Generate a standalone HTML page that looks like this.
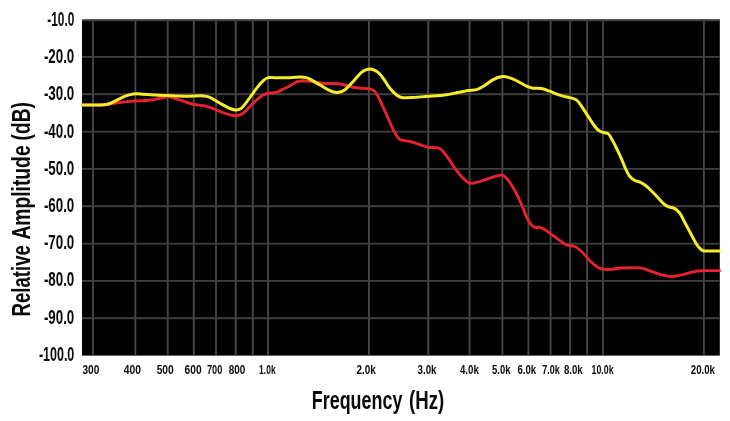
<!DOCTYPE html>
<html lang="en"><head><meta charset="utf-8"><title>Frequency Response</title>
<style>html,body{margin:0;padding:0;background:#fff;}body{width:730px;height:421px;overflow:hidden;}svg{display:block;}text{font-family:"Liberation Sans",sans-serif;font-weight:bold;fill:#0a0a0a;}</style></head><body>
<svg width="730" height="421" viewBox="0 0 730 421">
<defs><filter id="soft" x="-2%" y="-2%" width="104%" height="104%"><feGaussianBlur stdDeviation="0.7"/></filter><clipPath id="cp"><rect x="81.0" y="18.6" width="639.8" height="338.0"/></clipPath></defs>
<rect width="730" height="421" fill="#fff"/>
<g filter="url(#soft)">
<rect x="82.0" y="19.6" width="637.8" height="336.0" fill="#000"/>
<g stroke="#464646" stroke-width="1.9" fill="none">
<line x1="93.0" y1="19.6" x2="93.0" y2="355.6"/>
<line x1="135.4" y1="19.6" x2="135.4" y2="355.6"/>
<line x1="167.7" y1="19.6" x2="167.7" y2="355.6"/>
<line x1="193.8" y1="19.6" x2="193.8" y2="355.6"/>
<line x1="216.0" y1="19.6" x2="216.0" y2="355.6"/>
<line x1="235.8" y1="19.6" x2="235.8" y2="355.6"/>
<line x1="252.8" y1="19.6" x2="252.8" y2="355.6"/>
<line x1="268.1" y1="19.6" x2="268.1" y2="355.6"/>
<line x1="368.9" y1="19.6" x2="368.9" y2="355.6"/>
<line x1="428.2" y1="19.6" x2="428.2" y2="355.6"/>
<line x1="469.6" y1="19.6" x2="469.6" y2="355.6"/>
<line x1="502.4" y1="19.6" x2="502.4" y2="355.6"/>
<line x1="528.4" y1="19.6" x2="528.4" y2="355.6"/>
<line x1="550.6" y1="19.6" x2="550.6" y2="355.6"/>
<line x1="570.1" y1="19.6" x2="570.1" y2="355.6"/>
<line x1="587.1" y1="19.6" x2="587.1" y2="355.6"/>
<line x1="602.9" y1="19.6" x2="602.9" y2="355.6"/>
<line x1="703.9" y1="19.6" x2="703.9" y2="355.6"/>
<line x1="82.0" y1="20.2" x2="719.8" y2="20.2" stroke="#404040"/>
<line x1="82.0" y1="56.9" x2="719.8" y2="56.9" stroke="#404040"/>
<line x1="82.0" y1="94.3" x2="719.8" y2="94.3" stroke="#404040"/>
<line x1="82.0" y1="131.6" x2="719.8" y2="131.6" stroke="#404040"/>
<line x1="82.0" y1="168.9" x2="719.8" y2="168.9" stroke="#404040"/>
<line x1="82.0" y1="206.3" x2="719.8" y2="206.3" stroke="#404040"/>
<line x1="82.0" y1="243.6" x2="719.8" y2="243.6" stroke="#404040"/>
<line x1="82.0" y1="280.9" x2="719.8" y2="280.9" stroke="#404040"/>
<line x1="82.0" y1="318.3" x2="719.8" y2="318.3" stroke="#404040"/>
</g>
<g clip-path="url(#cp)" fill="none" stroke-linecap="round" stroke-linejoin="round">
<path d="M82.0,105.0 C85.0,105.0 96.0,105.0 100.0,105.0 C104.0,105.0 104.2,104.9 106.0,104.7 C107.8,104.5 109.0,104.1 111.0,103.8 C113.0,103.5 114.8,103.1 117.8,102.7 C120.8,102.3 126.3,101.7 129.3,101.4 C132.3,101.1 132.3,101.2 135.9,101.0 C139.5,100.8 146.3,100.5 150.7,100.0 C155.1,99.5 159.2,98.3 162.2,97.8 C165.2,97.3 166.1,96.6 168.8,96.9 C171.5,97.2 174.8,98.5 178.6,99.7 C182.4,100.9 187.7,103.0 191.8,104.0 C195.9,105.0 200.3,105.1 203.3,105.7 C206.3,106.3 207.2,106.4 210.0,107.4 C212.8,108.4 216.7,110.3 220.0,111.5 C223.3,112.7 227.2,114.1 229.9,114.8 C232.7,115.5 234.3,116.0 236.5,115.7 C238.7,115.4 241.0,114.7 243.2,113.2 C245.4,111.7 247.6,108.7 249.8,106.5 C252.0,104.3 254.3,101.8 256.5,99.9 C258.7,98.0 261.2,96.0 263.1,94.9 C265.0,93.8 265.9,93.6 268.1,93.2 C270.3,92.8 273.9,93.1 276.4,92.4 C278.9,91.7 280.8,90.2 283.1,89.1 C285.4,88.0 287.8,86.9 290.0,85.7 C292.2,84.5 294.4,82.6 296.6,81.8 C298.8,81.0 300.8,80.8 303.3,80.7 C305.8,80.7 308.3,81.1 311.6,81.5 C314.9,81.9 318.5,82.8 323.2,83.2 C327.9,83.6 335.5,83.5 339.9,84.0 C344.3,84.5 346.5,85.8 349.8,86.5 C353.1,87.2 356.5,87.8 359.8,88.2 C363.1,88.6 367.3,88.2 369.8,88.8 C372.3,89.4 373.3,89.6 375.0,91.6 C376.7,93.5 378.1,96.6 380.0,100.5 C381.9,104.4 384.4,110.0 386.6,114.9 C388.8,119.8 391.4,126.0 393.3,129.9 C395.2,133.8 396.9,136.5 398.3,138.2 C399.7,139.9 399.7,139.6 401.6,140.2 C403.5,140.8 406.8,140.8 409.9,141.5 C412.9,142.2 416.8,143.6 419.9,144.6 C423.0,145.6 425.5,146.9 428.3,147.4 C431.1,147.9 434.4,147.2 436.6,147.6 C438.8,148.0 439.7,148.1 441.6,149.9 C443.6,151.7 446.1,155.2 448.3,158.3 C450.5,161.4 452.7,165.2 454.9,168.2 C457.1,171.2 459.0,174.0 461.5,176.5 C464.0,179.0 467.1,182.3 469.9,183.2 C472.7,184.1 474.9,182.7 478.2,181.9 C481.5,181.1 486.5,179.2 489.8,178.2 C493.1,177.2 496.0,176.2 498.1,175.7 C500.2,175.2 500.9,174.8 502.3,175.2 C503.7,175.6 505.0,176.6 506.5,178.2 C508.0,179.8 509.8,182.2 511.4,184.8 C513.0,187.4 514.6,189.9 516.4,193.5 C518.2,197.1 520.8,203.0 522.4,206.6 C524.0,210.2 524.5,212.1 525.7,214.9 C527.0,217.7 528.4,221.1 529.9,223.2 C531.4,225.3 533.2,226.7 534.9,227.4 C536.6,228.1 538.0,226.9 539.9,227.4 C541.8,227.9 544.3,229.3 546.5,230.7 C548.7,232.1 550.7,233.8 553.2,235.7 C555.7,237.5 559.2,240.2 561.5,241.8 C563.8,243.4 564.8,244.4 567.0,245.2 C569.2,246.0 572.5,245.4 574.9,246.5 C577.3,247.6 579.1,249.1 581.6,251.5 C584.1,253.9 587.4,258.2 589.9,260.7 C592.4,263.2 594.7,265.1 596.6,266.5 C598.5,267.9 598.9,268.5 601.5,269.0 C604.1,269.5 608.8,269.5 612.0,269.3 C615.2,269.1 616.4,268.2 621.0,268.0 C625.6,267.8 635.4,267.5 639.9,267.9 C644.4,268.3 644.9,269.2 648.2,270.3 C651.5,271.4 656.0,273.3 659.8,274.3 C663.6,275.3 667.4,276.4 671.0,276.5 C674.6,276.6 677.8,275.6 681.5,274.8 C685.2,274.0 689.8,272.6 693.1,271.9 C696.4,271.2 697.0,270.9 701.4,270.7 C705.8,270.5 716.7,270.7 719.8,270.7" stroke="#e6222f" stroke-width="2.9"/>
<path d="M82.0,105.0 C85.0,105.0 96.0,105.1 100.0,105.0 C104.0,104.9 104.1,104.9 106.0,104.6 C107.9,104.3 109.2,103.8 111.2,103.0 C113.2,102.2 115.7,100.8 117.8,99.7 C119.9,98.6 122.1,97.4 124.0,96.6 C125.9,95.8 127.2,95.4 129.3,94.9 C131.4,94.4 134.2,93.9 136.5,93.8 C138.8,93.7 140.6,94.1 143.0,94.3 C145.4,94.5 146.6,94.6 150.7,94.8 C154.8,95.0 161.7,95.4 167.4,95.6 C173.2,95.8 179.2,96.2 185.2,96.2 C191.2,96.2 199.2,95.7 203.3,95.9 C207.4,96.1 207.2,96.2 210.0,97.4 C212.8,98.6 216.7,101.4 220.0,103.2 C223.3,105.0 227.2,107.4 229.9,108.5 C232.7,109.6 234.6,110.0 236.5,109.9 C238.4,109.9 239.6,109.9 241.5,108.2 C243.4,106.5 245.7,103.2 248.2,99.9 C250.7,96.6 254.0,91.5 256.5,88.3 C259.0,85.1 261.2,82.6 263.1,80.8 C265.0,79.0 265.9,78.1 268.1,77.6 C270.3,77.1 272.8,77.8 276.4,77.8 C280.0,77.8 285.6,77.8 289.7,77.7 C293.8,77.6 298.2,77.0 301.0,77.0 C303.8,77.0 304.8,77.2 306.3,77.6 C307.8,77.9 307.6,77.9 309.9,79.1 C312.2,80.3 316.6,83.0 319.9,84.9 C323.2,86.8 327.0,89.5 329.9,90.7 C332.8,92.0 334.9,92.5 337.4,92.4 C339.9,92.3 342.2,91.7 344.8,89.9 C347.4,88.1 350.4,84.4 353.2,81.5 C356.0,78.6 358.7,74.5 361.5,72.4 C364.3,70.3 367.0,69.1 369.8,69.1 C372.6,69.1 375.7,70.7 378.1,72.4 C380.5,74.1 382.0,76.8 384.0,79.5 C386.0,82.2 387.8,85.7 389.9,88.3 C392.0,90.9 394.7,93.5 396.6,95.0 C398.6,96.5 399.1,97.1 401.6,97.5 C404.1,97.9 407.1,97.8 411.5,97.6 C415.9,97.4 422.6,96.7 428.2,96.3 C433.8,95.9 439.8,95.6 444.8,95.0 C449.8,94.4 454.2,93.2 458.1,92.5 C462.0,91.8 465.0,91.0 468.1,90.5 C471.2,90.0 473.7,90.4 476.5,89.6 C479.3,88.8 482.0,87.1 484.8,85.4 C487.6,83.7 490.3,81.1 493.2,79.6 C496.1,78.1 499.6,76.9 502.4,76.6 C505.2,76.3 507.3,77.1 509.9,77.9 C512.5,78.7 515.4,80.2 518.2,81.6 C521.0,83.0 524.0,85.1 526.5,86.2 C529.0,87.3 530.6,87.8 533.1,88.2 C535.6,88.6 538.6,88.1 541.4,88.6 C544.2,89.1 546.7,90.1 549.7,91.2 C552.8,92.3 556.4,94.1 559.7,95.2 C563.0,96.3 566.9,96.8 569.7,97.6 C572.5,98.4 574.4,98.5 576.4,99.9 C578.4,101.4 579.6,103.5 581.6,106.3 C583.6,109.1 586.1,113.2 588.3,116.6 C590.5,120.0 593.0,124.0 594.9,126.5 C596.8,128.9 598.2,130.2 599.9,131.3 C601.6,132.4 603.5,132.4 604.9,132.8 C606.3,133.2 607.2,132.8 608.5,134.0 C609.8,135.2 611.0,137.9 612.4,140.3 C613.8,142.7 615.1,145.4 616.6,148.5 C618.1,151.6 620.1,155.7 621.6,159.1 C623.1,162.5 624.3,166.2 625.7,169.1 C627.1,172.0 628.4,174.6 629.9,176.5 C631.4,178.4 633.2,179.6 634.9,180.5 C636.6,181.4 638.0,181.2 639.9,182.2 C641.8,183.1 644.1,184.3 646.5,186.2 C648.9,188.1 651.2,190.7 654.0,193.5 C656.8,196.3 660.8,201.1 663.2,203.3 C665.6,205.5 666.3,205.7 668.2,206.6 C670.1,207.5 672.9,207.5 674.8,208.6 C676.7,209.7 678.1,210.9 679.8,213.2 C681.5,215.5 682.9,218.9 684.8,222.5 C686.7,226.1 689.5,231.2 691.4,234.8 C693.3,238.4 694.9,241.6 696.4,244.0 C697.9,246.4 699.2,247.8 700.6,249.0 C702.0,250.2 701.5,250.7 704.7,251.0 C707.9,251.3 717.3,251.0 719.8,251.0" stroke="#f6ec2a" stroke-width="3.0"/>
</g>
</g>
<g font-size="19.9">
<text x="47.3" y="26.0" textLength="27.0" lengthAdjust="spacingAndGlyphs">-10.0</text>
<text x="43.9" y="63.2" textLength="30.4" lengthAdjust="spacingAndGlyphs">-20.0</text>
<text x="43.9" y="100.4" textLength="30.4" lengthAdjust="spacingAndGlyphs">-30.0</text>
<text x="43.9" y="137.6" textLength="30.4" lengthAdjust="spacingAndGlyphs">-40.0</text>
<text x="43.9" y="174.8" textLength="30.4" lengthAdjust="spacingAndGlyphs">-50.0</text>
<text x="43.9" y="212.0" textLength="30.4" lengthAdjust="spacingAndGlyphs">-60.0</text>
<text x="43.9" y="249.2" textLength="30.4" lengthAdjust="spacingAndGlyphs">-70.0</text>
<text x="43.9" y="286.4" textLength="30.4" lengthAdjust="spacingAndGlyphs">-80.0</text>
<text x="43.9" y="323.6" textLength="30.4" lengthAdjust="spacingAndGlyphs">-90.0</text>
<text x="38.9" y="360.8" textLength="35.4" lengthAdjust="spacingAndGlyphs">-100.0</text>
</g>
<g font-size="13.3">
<text x="82.4" y="373.9" textLength="16.9" lengthAdjust="spacingAndGlyphs">300</text>
<text x="123.8" y="373.9" textLength="17.2" lengthAdjust="spacingAndGlyphs">400</text>
<text x="156.7" y="373.9" textLength="17.0" lengthAdjust="spacingAndGlyphs">500</text>
<text x="184.6" y="373.9" textLength="17.0" lengthAdjust="spacingAndGlyphs">600</text>
<text x="206.9" y="373.9" textLength="15.4" lengthAdjust="spacingAndGlyphs">700</text>
<text x="228.8" y="373.9" textLength="16.6" lengthAdjust="spacingAndGlyphs">800</text>
<text x="259.1" y="373.9" textLength="16.6" lengthAdjust="spacingAndGlyphs">1.0k</text>
<text x="356.6" y="373.9" textLength="19.3" lengthAdjust="spacingAndGlyphs">2.0k</text>
<text x="417.5" y="373.9" textLength="19.0" lengthAdjust="spacingAndGlyphs">3.0k</text>
<text x="460.0" y="373.9" textLength="18.8" lengthAdjust="spacingAndGlyphs">4.0k</text>
<text x="492.1" y="373.9" textLength="18.4" lengthAdjust="spacingAndGlyphs">5.0k</text>
<text x="517.4" y="373.9" textLength="18.7" lengthAdjust="spacingAndGlyphs">6.0k</text>
<text x="542.3" y="373.9" textLength="17.5" lengthAdjust="spacingAndGlyphs">7.0k</text>
<text x="563.9" y="373.9" textLength="18.8" lengthAdjust="spacingAndGlyphs">8.0k</text>
<text x="591.6" y="373.9" textLength="21.9" lengthAdjust="spacingAndGlyphs">10.0k</text>
<text x="690.8" y="373.9" textLength="24.2" lengthAdjust="spacingAndGlyphs">20.0k</text>
</g>
<g font-size="26.5"><text x="311.8" y="409.3" textLength="90.6" lengthAdjust="spacingAndGlyphs">Frequency</text> <text x="409" y="409.3" textLength="35.2" lengthAdjust="spacingAndGlyphs">(Hz)</text></g>
<g transform="translate(30.3,316.4) rotate(-90)" font-size="26"><text x="0" y="0" textLength="71.3" lengthAdjust="spacingAndGlyphs">Relative</text> <text x="76.8" y="0" textLength="94.2" lengthAdjust="spacingAndGlyphs">Amplitude</text> <text x="176" y="0" textLength="38.2" lengthAdjust="spacingAndGlyphs">(dB)</text></g>
</svg></body></html>
